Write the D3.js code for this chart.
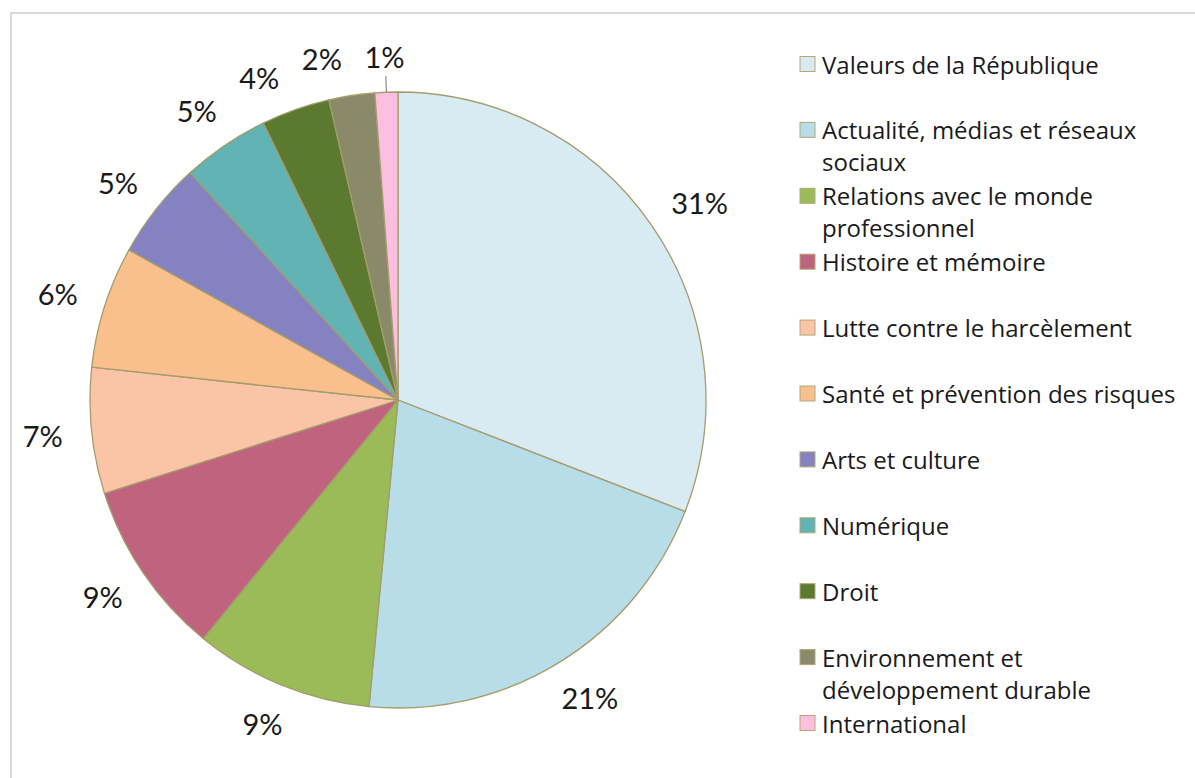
<!DOCTYPE html>
<html>
<head>
<meta charset="utf-8">
<script src="https://cdn.jsdelivr.net/npm/d3@7"></script>
<style>
  body { margin: 0; background: #fff; }
  text { fill: #1a1a1a; }
  .pct { font-family: Lato, "Open Sans", sans-serif; }
  .legend text { font-family: "Open Sans", Lato, sans-serif; }
</style>
</head>
<body>
<svg id="chart" width="1195" height="778"></svg>
<script>
// Categories (legend lines split on "\n") and shares
var categories = [
  "Valeurs de la République",
  "Actualité, médias et réseaux\nsociaux",
  "Relations avec le monde\nprofessionnel",
  "Histoire et mémoire",
  "Lutte contre le harcèlement",
  "Santé et prévention des risques",
  "Arts et culture",
  "Numérique",
  "Droit",
  "Environnement et\ndéveloppement durable",
  "International"
];
var values = [30.9, 20.6, 9.4, 9.2, 6.6, 6.4, 5.1, 4.6, 3.6, 2.4, 1.2];
var colors = ["#d8ebf3", "#b7dde8", "#9bbb59", "#c0637f", "#fcc4a6",
              "#f9bf8d", "#8482c0", "#62b3b4", "#5b7a30", "#8a8a6a", "#fdbfe0"];

var svg = d3.select("#chart"),
    width = +svg.attr("width"),
    height = +svg.attr("height");

// chart frame
svg.append("rect")
    .attr("x", 11).attr("y", 13)
    .attr("width", width + 10).attr("height", height + 10)
    .attr("fill", "none")
    .attr("stroke", "#d9d9d9")
    .attr("stroke-width", 2);

var cx = 398, cy = 400, radius = 308;
var total = d3.sum(values);

var color = d3.scaleOrdinal().domain(categories).range(colors);

var pie = d3.pie().sort(null).value(function (d) { return d.value; });
var arc = d3.arc().innerRadius(0).outerRadius(radius);

var data = categories.map(function (c, i) { return { name: c, value: values[i] }; });
var arcs = pie(data);

var g = svg.append("g").attr("transform", "translate(" + cx + "," + cy + ")");

g.selectAll("path")
    .data(arcs)
    .enter()
    .append("path")
    .attr("d", arc)
    .attr("fill", function (d) { return color(d.data.name); })
    .attr("stroke", "#a49c6c")
    .attr("stroke-width", 1.3)
    .attr("stroke-linejoin", "round");

// percentage labels, placed just outside the pie (best fit style)
var pad = 29, gap = 22, h = 26;

function boxAt(a, w) {
    var s = Math.sin(a), c = -Math.cos(a);
    var r = radius + pad;
    var x = r * s + s * w / 2,
        y = r * c + c * h / 2;
    return { x: x, y: y, x0: x - w / 2, x1: x + w / 2, y0: y - h / 2, y1: y + h / 2 };
}
function clash(b, p) {
    return b.x1 + gap > p.x0 && b.x0 - gap < p.x1 && b.y1 + gap > p.y0 && b.y0 - gap < p.y1;
}

var labels = g.selectAll(".pct")
    .data(arcs)
    .enter()
    .append("text")
    .attr("class", "pct")
    .attr("font-size", 29)
    .attr("text-anchor", "middle")
    .attr("dominant-baseline", "central")
    .text(function (d) { return Math.round(d.data.value / total * 100) + "%"; });

// place from the last slice backwards, pushing counter-clockwise on overlap
var nodes = labels.nodes();
var placed = null;
for (var i = nodes.length - 1; i >= 0; i--) {
    var d = arcs[i];
    var w = nodes[i].getComputedTextLength();
    var a = (d.startAngle + d.endAngle) / 2;
    var b = boxAt(a, w);
    if (d.data.value < 2) { b.y += 6; b.y0 += 6; b.y1 += 6; }
    var n = 0;
    while (placed && clash(b, placed) && n < 400) {
        a -= 0.002;
        b = boxAt(a, w);
        n++;
    }
    d3.select(nodes[i]).attr("x", b.x).attr("y", b.y);
    placed = b;
}

// leader line for the smallest slice
arcs.filter(function (d) { return d.data.value < 2; }).forEach(function (d) {
    var a = (d.startAngle + d.endAngle) / 2;
    g.append("line")
        .attr("x1", radius * Math.sin(a)).attr("y1", -radius * Math.cos(a))
        .attr("x2", (radius + 16) * Math.sin(a)).attr("y2", -(radius + 16) * Math.cos(a))
        .attr("stroke", "#888")
        .attr("stroke-width", 1.2);
});

// legend
var legendY = d3.scaleLinear().domain([0, categories.length - 1]).range([64, 723]);
var legend = svg.append("g").attr("class", "legend");

var item = legend.selectAll("g")
    .data(categories)
    .enter()
    .append("g")
    .attr("transform", function (d, i) { return "translate(800," + legendY(i) + ")"; });

item.append("rect")
    .attr("x", 0).attr("y", -7.5)
    .attr("width", 15).attr("height", 15)
    .attr("fill", function (d) { return color(d); })
    .attr("stroke", "#b2a77a")
    .attr("stroke-width", 1);

item.append("text")
    .attr("x", 22)
    .attr("font-size", 24)
    .each(function (d) {
        var t = d3.select(this);
        d.split("\n").forEach(function (line, k) {
            t.append("tspan")
                .attr("x", 22)
                .attr("y", k * 32)
                .attr("dominant-baseline", "central")
                .text(line);
        });
    });
</script>
</body>
</html>
